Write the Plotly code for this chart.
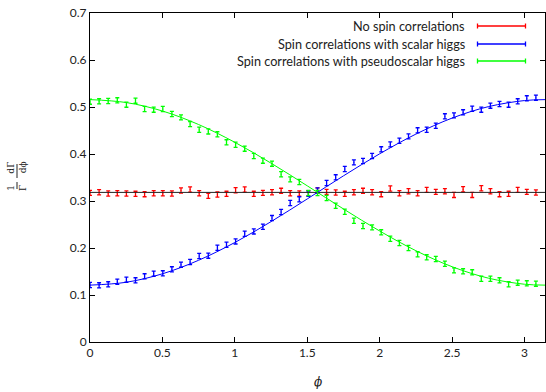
import numpy as np
import plotly.graph_objects as go

# bin positions (k * pi/50)
nbins = 50
phi = [k * np.pi / nbins for k in range(nbins)]

no_spin = [0.3173, 0.3187, 0.3159, 0.3166, 0.3159, 0.3152, 0.3145, 0.3166, 0.3166, 0.3159,
           0.3223, 0.3244, 0.3166, 0.3109, 0.3137, 0.3152, 0.3230, 0.3244, 0.3152, 0.3173,
           0.3187, 0.3216, 0.3166, 0.3159, 0.3166, 0.3223, 0.3194, 0.3180, 0.3152, 0.3187,
           0.3216, 0.3187, 0.3145, 0.3265, 0.3166, 0.3208, 0.3166, 0.3237, 0.3194, 0.3208,
           0.3130, 0.3251, 0.3130, 0.3272, 0.3208, 0.3145, 0.3152, 0.3237, 0.3194, 0.3180]

scalar = [0.1213, 0.1206, 0.1227, 0.1284, 0.1326, 0.1312, 0.1397, 0.1454, 0.1461, 0.1546,
          0.1645, 0.1702, 0.1829, 0.1837, 0.2006, 0.2070, 0.2140, 0.2303, 0.2353, 0.2453,
          0.2637, 0.2765, 0.2957, 0.3035, 0.3155, 0.3226, 0.3382, 0.3503, 0.3681, 0.3822,
          0.3850, 0.3957, 0.4099, 0.4205, 0.4283, 0.4375, 0.4503, 0.4517, 0.4602, 0.4801,
          0.4822, 0.4886, 0.4964, 0.4943, 0.5028, 0.5064, 0.5050, 0.5121, 0.5184, 0.5199]

pseudo = [0.5113, 0.5121, 0.5128, 0.5142, 0.5050, 0.5135, 0.4957, 0.4943, 0.4957, 0.4850,
          0.4779, 0.4637, 0.4517, 0.4481, 0.4418, 0.4248, 0.4198, 0.4113, 0.3957, 0.3858,
          0.3794, 0.3570, 0.3460, 0.3404, 0.3170, 0.3170, 0.3063, 0.2899, 0.2772, 0.2580,
          0.2467, 0.2439, 0.2333, 0.2198, 0.2106, 0.1999, 0.1865, 0.1801, 0.1765, 0.1666,
          0.1524, 0.1503, 0.1482, 0.1347, 0.1347, 0.1312, 0.1227, 0.1262, 0.1248, 0.1241]

err = [0.0055] * nbins

# theory curves
curve_x = [0.0, 0.25, 0.5, 0.75, 1.0, 1.25, 1.5, 1.75, 2.0, 2.25, 2.5, 2.75, 3.0, np.pi]
curve_scalar = [0.1210, 0.1271, 0.1451, 0.1739, 0.2117, 0.2561, 0.3044, 0.3535, 0.4004,
                0.4423, 0.4764, 0.5007, 0.5137, 0.5157]
curve_pseudo = [0.5157, 0.5095, 0.4915, 0.4627, 0.4249, 0.3805, 0.3323, 0.2831, 0.2362,
                0.1943, 0.1602, 0.1359, 0.1229, 0.1210]
flat_x = [0.0, np.pi]
flat_y = [0.3183, 0.3183]

labels = ["No spin correlations", "Spin correlations with scalar higgs",
          "Spin correlations with pseudoscalar higgs"]
colors = ["#ff0000", "#0000ff", "#00ff00"]

FONT = "Lato"
fig = go.Figure()

for ys, c in zip([no_spin, scalar, pseudo], colors):
    fig.add_trace(go.Scatter(
        x=phi, y=ys, mode="markers",
        marker=dict(size=1, color=c),
        error_y=dict(type="data", array=err, visible=True, color=c,
                     thickness=1.3, width=2),
        showlegend=False, cliponaxis=True))

fig.add_trace(go.Scatter(x=flat_x, y=flat_y, mode="lines",
                         line=dict(color="#222222", width=1), showlegend=False))
fig.add_trace(go.Scatter(x=curve_x, y=curve_scalar, mode="lines", line_shape="spline",
                         line=dict(color="#0000ff", width=1), showlegend=False))
fig.add_trace(go.Scatter(x=curve_x, y=curve_pseudo, mode="lines", line_shape="spline",
                         line=dict(color="#00ff00", width=1), showlegend=False))

W, H = 546, 392
L, R, T, B = 90, 1, 13, 50
pw = W - L - R
ph = H - T - B

def px2paper_x(px):
    return (px - L) / pw

def px2paper_y(py):
    return 1 - (py - T) / ph

shapes = []
annotations = []
legend_y = [26, 44, 61]
for lab, c, ly in zip(labels, colors, legend_y):
    annotations.append(dict(
        x=px2paper_x(467), y=px2paper_y(ly), xref="paper", yref="paper",
        text=lab, showarrow=False, xanchor="right", yanchor="middle",
        font=dict(family=FONT, size=12.7, color="#222222")))
    x0, x1 = px2paper_x(477.5), px2paper_x(525.5)
    yc = px2paper_y(ly)
    shapes.append(dict(type="line", xref="paper", yref="paper", x0=x0, x1=x1,
                       y0=yc, y1=yc, line=dict(color=c, width=1.3)))
    for xx in (x0, x1):
        shapes.append(dict(type="line", xref="paper", yref="paper", x0=xx, x1=xx,
                           y0=px2paper_y(ly - 2.5), y1=px2paper_y(ly + 2.5),
                           line=dict(color=c, width=1.3)))

# y-axis title as stacked fractions (rotated)
annotations.append(dict(
    x=px2paper_x(17), y=px2paper_y(176), xref="paper", yref="paper",
    text="1    dΓ<br>Γ    dϕ", textangle=-90, showarrow=False,
    xanchor="center", yanchor="middle",
    font=dict(family="DejaVu Serif", size=9, color="#222222")))
shapes.append(dict(type="line", xref="paper", yref="paper",
                   x0=px2paper_x(17), x1=px2paper_x(17),
                   y0=px2paper_y(189), y1=px2paper_y(182),
                   line=dict(color="#222222", width=1)))
shapes.append(dict(type="line", xref="paper", yref="paper",
                   x0=px2paper_x(17), x1=px2paper_x(17),
                   y0=px2paper_y(178), y1=px2paper_y(164),
                   line=dict(color="#222222", width=1)))

# x-axis title
annotations.append(dict(
    x=px2paper_x(318), y=px2paper_y(382), xref="paper", yref="paper",
    text="<i>ϕ</i>", showarrow=False, xanchor="center", yanchor="middle",
    font=dict(family="DejaVu Serif", size=12, color="#222222")))

axis_common = dict(showline=True, linecolor="#000000", linewidth=1, mirror="ticks",
                   ticks="inside", ticklen=5, tickwidth=1, tickcolor="#000000",
                   showgrid=False, zeroline=False,
                   tickfont=dict(family=FONT, size=12, color="#222222"))

fig.update_layout(
    width=W, height=H,
    margin=dict(l=L, r=R, t=T, b=B),
    paper_bgcolor="white", plot_bgcolor="white",
    xaxis=dict(range=[0, np.pi], tickvals=[0, 0.5, 1, 1.5, 2, 2.5, 3],
               ticktext=["0", "0.5", "1", "1.5", "2", "2.5", "3"], **axis_common),
    yaxis=dict(range=[0, 0.7], tickvals=[0, 0.1, 0.2, 0.3, 0.4, 0.5, 0.6, 0.7],
               ticktext=["0", "0.1", "0.2", "0.3", "0.4", "0.5", "0.6", "0.7"],
               **axis_common),
    shapes=shapes, annotations=annotations, showlegend=False)

fig.write_html("out.html")
